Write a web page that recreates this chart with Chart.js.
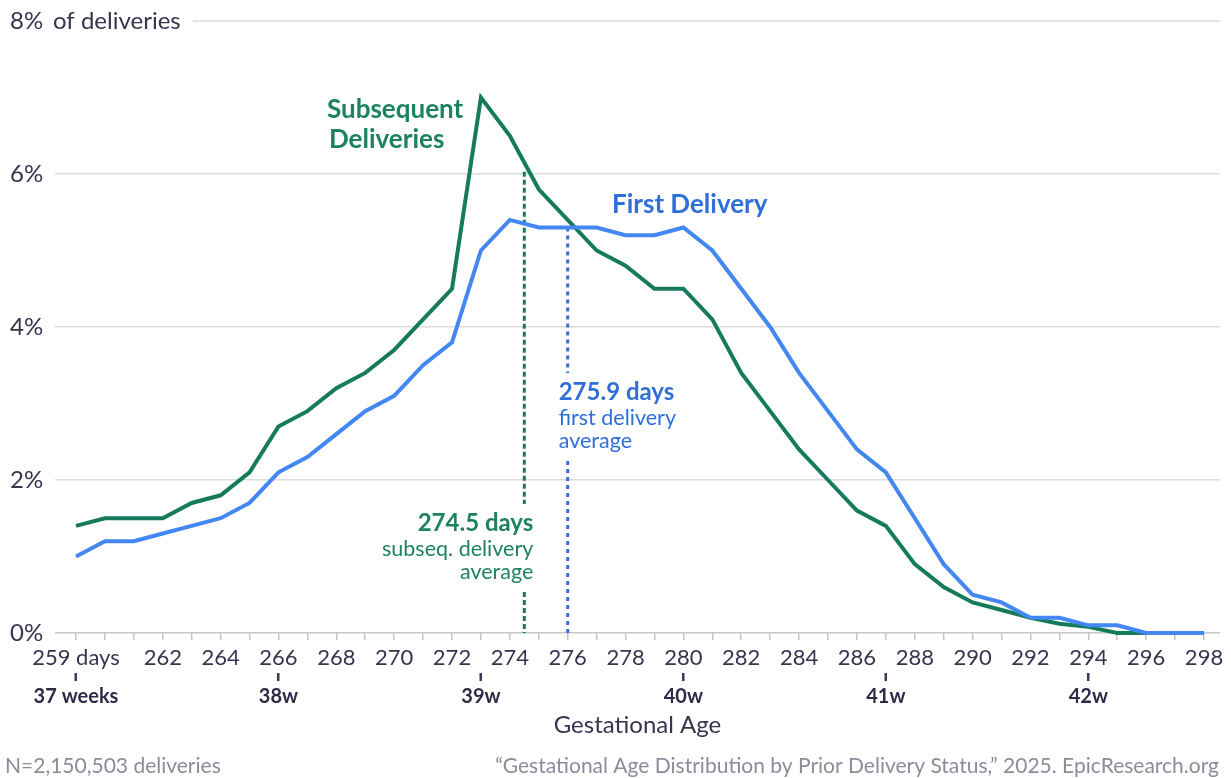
<!DOCTYPE html>
<html>
<head>
<meta charset="utf-8">
<script src="https://cdn.jsdelivr.net/npm/chart.js@4/dist/chart.umd.min.js"></script>
<style>
html,body{margin:0;padding:0;background:#fff;}
#wrap{width:1231px;height:778px;position:relative;}
canvas{display:block;}
</style>
</head>
<body>
<div id="wrap"><canvas id="c" width="1231" height="778"></canvas></div>
<script>
// ---- data ----
const days = [259,260,261,262,263,264,265,266,267,268,269,270,271,272,273,274,275,276,277,278,279,280,281,282,283,284,285,286,287,288,289,290,291,292,293,294,295,296,297,298];
const firstDelivery = [1.0,1.2,1.2,1.3,1.4,1.5,1.7,2.1,2.3,2.6,2.9,3.1,3.5,3.8,5.0,5.4,5.3,5.3,5.3,5.2,5.2,5.3,5.0,4.5,4.0,3.4,2.9,2.4,2.1,1.5,0.9,0.5,0.4,0.2,0.2,0.1,0.1,0,0,0];
const subsequentDeliveries = [1.4,1.5,1.5,1.5,1.7,1.8,2.1,2.7,2.9,3.2,3.4,3.7,4.1,4.5,7.0,6.5,5.8,5.4,5.0,4.8,4.5,4.5,4.1,3.4,2.9,2.4,2.0,1.6,1.4,0.9,0.6,0.4,0.3,0.2,0.12,0.08,0,0,0,0];
const dayLabelValues = [259,262,264,266,268,270,272,274,276,278,280,282,284,286,288,290,292,294,296,298];
const dayLabelTexts = ['259 days','262','264','266','268','270','272','274','276','278','280','282','284','286','288','290','292','294','296','298'];
const weekValues = [259,266,273,280,287,294];
const weekLabels = ['37 weeks','38w','39w','40w','41w','42w'];
const yTickValues = [0,2,4,6,8];
const yTickLabels = ['0%','2%','4%','6%','8%'];
const averageLabels = ['274.5 days','275.9 days'];
const averageLineX = [274.5, 276];
const averageLineTop = [6.03, 5.3];

// ---- styles ----
const GREEN = '#157b5c';
const BLUE = '#4287f2';
const GREEN_TXT = '#1d8262';
const BLUE_TXT = '#2e6fd9';
const INK = '#35354f';
const GRID = '#dcdcdc';
const FONT = 'Lato, "Noto Sans", sans-serif';

const annotations = {
  id: 'annotations',
  beforeDatasetsDraw(chart) {
    const {ctx, scales:{x, y}, chartArea} = chart;
    ctx.save();
    ctx.font = '24px ' + FONT;
    const w = ctx.measureText('of deliveries').width;
    ctx.strokeStyle = GRID; ctx.lineWidth = 1.5;
    ctx.beginPath();
    ctx.moveTo(53 + w + 12, y.getPixelForValue(8));
    ctx.lineTo(chartArea.right, y.getPixelForValue(8));
    ctx.stroke();

    const specs = [
      {x: averageLineX[0], top: averageLineTop[0], color: GREEN, dash: [5,3], labelCenter: 523},
      {x: averageLineX[1], top: averageLineTop[1], color: '#2f72de', dash: [4,4], labelCenter: 392}
    ];
    specs.forEach(s => {
      const px = x.getPixelForValue(s.x);
      const yTop = y.getPixelForValue(s.top);
      const yBot = y.getPixelForValue(0);
      const gapTop = s.labelCenter - 12 - 7;
      const gapBot = s.labelCenter + 49 + 10 + 10;
      ctx.strokeStyle = s.color; ctx.lineWidth = 3; ctx.setLineDash(s.dash);
      ctx.beginPath();
      ctx.moveTo(px, yTop); ctx.lineTo(px, gapTop);
      ctx.moveTo(px, gapBot); ctx.lineTo(px, yBot);
      ctx.stroke();
    });
    ctx.restore();
  },
  afterDraw(chart) {
    const {ctx, scales:{x, x2, y}} = chart;
    ctx.save();
    // week tick marks
    ctx.strokeStyle = '#3a3a55'; ctx.lineWidth = 2;
    ctx.beginPath();
    weekValues.forEach(v => {
      const px = Math.round(x2.getPixelForValue(v));
      ctx.moveTo(px, x2.top);
      ctx.lineTo(px, x2.top + 8);
    });
    ctx.stroke();

    ctx.textBaseline = 'middle';
    ctx.fillStyle = INK; ctx.font = '24px ' + FONT; ctx.textAlign = 'left';
    yTickValues.forEach((v, i) => {
      ctx.fillText(yTickLabels[i], 10, y.getPixelForValue(v));
    });
    ctx.fillText('of deliveries', 53, y.getPixelForValue(8));

    ctx.font = 'bold 26px ' + FONT;
    ctx.fillStyle = GREEN_TXT;
    ctx.fillText('Subsequent', 327, 110);
    ctx.fillText('Deliveries', 329, 140);
    ctx.fillStyle = BLUE_TXT;
    ctx.fillText('First Delivery', 612, 205);

    const bx = x.getPixelForValue(averageLineX[1]) - 9;
    ctx.textAlign = 'left'; ctx.fillStyle = BLUE_TXT;
    ctx.font = 'bold 24px ' + FONT;
    ctx.fillText(averageLabels[1], bx, 392);
    ctx.font = '21.5px ' + FONT;
    ctx.fillText('first delivery', bx, 418);
    ctx.fillText('average', bx, 441);

    const gx = x.getPixelForValue(averageLineX[0]) + 9;
    ctx.textAlign = 'right'; ctx.fillStyle = GREEN_TXT;
    ctx.font = 'bold 24px ' + FONT;
    ctx.fillText(averageLabels[0], gx, 523);
    ctx.font = '21.5px ' + FONT;
    ctx.fillText('subseq. delivery', gx, 549);
    ctx.fillText('average', gx, 572);

    ctx.font = '21px ' + FONT; ctx.fillStyle = '#8b8b9b';
    ctx.textAlign = 'left';
    ctx.fillText('N=2,150,503 deliveries', 5, 766);
    ctx.textAlign = 'right';
    ctx.fillText('\u201cGestational Age Distribution by Prior Delivery Status,\u201d 2025. EpicResearch.org', 1219, 766);
    ctx.restore();
  }
};

function makeChart() {
  const labelMap = {};
  dayLabelValues.forEach((v, i) => labelMap[v] = dayLabelTexts[i]);
  const weekMap = {};
  weekValues.forEach((v, i) => weekMap[v] = weekLabels[i]);

  new Chart(document.getElementById('c'), {
    type: 'line',
    data: {
      datasets: [
        {label: 'First Delivery', data: days.map((d, i) => ({x: d, y: firstDelivery[i]})), borderColor: BLUE, borderWidth: 4, pointRadius: 0, tension: 0, clip: 6, xAxisID: 'x', yAxisID: 'y'},
        {label: 'Subsequent Deliveries', data: days.map((d, i) => ({x: d, y: subsequentDeliveries[i]})), borderColor: GREEN, borderWidth: 4, pointRadius: 0, tension: 0, clip: 6, xAxisID: 'x', yAxisID: 'y'}
      ]
    },
    options: {
      responsive: false,
      animation: false,
      devicePixelRatio: 1,
      layout: {padding: {left: 55, right: 11, top: 21, bottom: 38.6}},
      plugins: {legend: {display: false}, tooltip: {enabled: false}},
      scales: {
        x: {
          type: 'linear', position: 'bottom', min: 258.274, max: 298.553,
          afterBuildTicks: s => { s.ticks = days.map(v => ({value: v})); },
          afterFit: s => { s.height = 40; },
          ticks: {autoSkip: false, maxRotation: 0, padding: 5, color: INK, font: {family: FONT, size: 22},
            callback: v => (labelMap[v] !== undefined ? labelMap[v] : '')},
          grid: {drawOnChartArea: false, tickLength: 7, color: '#c4c4c4', lineWidth: 1.5},
          border: {display: false}
        },
        x2: {
          type: 'linear', position: 'bottom', min: 258.274, max: 298.553,
          afterBuildTicks: s => { s.ticks = weekValues.map(v => ({value: v})); },
          afterFit: s => { s.height = 66.4; },
          ticks: {autoSkip: false, maxRotation: 0, padding: 4, color: '#2c2c47', font: {family: FONT, size: 20, weight: 'bold'},
            callback: v => (weekMap[v] !== undefined ? weekMap[v] : '')},
          grid: {drawOnChartArea: false, tickLength: 8, tickWidth: 2, tickColor: '#3a3a55'},
          border: {display: false},
          title: {display: true, text: 'Gestational Age', color: INK, font: {family: FONT, size: 24}, padding: {top: 0, bottom: 0}}
        },
        y: {
          min: 0, max: 8,
          afterBuildTicks: s => { s.ticks = yTickValues.map(v => ({value: v})); },
          ticks: {display: false},
          grid: {drawTicks: false, lineWidth: 1.5, color: c => (c.tick && c.tick.value === 8 ? 'rgba(0,0,0,0)' : (c.tick && c.tick.value === 0 ? '#c8c8c8' : GRID))},
          border: {display: false}
        }
      }
    },
    plugins: [annotations]
  });
}

if (document.fonts && document.fonts.load) {
  Promise.all([
    document.fonts.load('20px Lato'),
    document.fonts.load('bold 20px Lato')
  ]).then(makeChart, makeChart);
} else {
  makeChart();
}
</script>
</body>
</html>
